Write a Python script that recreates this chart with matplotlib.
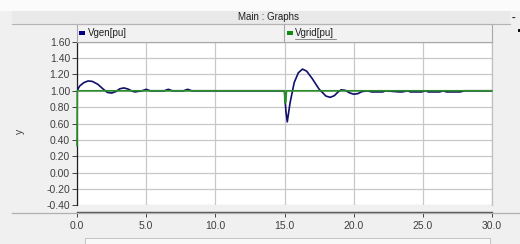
import matplotlib
matplotlib.use('Agg')
import matplotlib.pyplot as plt
from matplotlib.patches import Rectangle
from matplotlib.lines import Line2D

plt.rcParams['font.family'] = ['Liberation Sans', 'DejaVu Sans']

# Datos (tiempo en s, tension en pu)
t_gen = [0.0, 0.2, 0.5, 0.8, 1.1, 1.5, 1.9, 2.2, 2.5, 2.8, 3.1, 3.4, 3.7, 4.0,
         4.2, 4.5, 4.7, 5.0, 5.3, 5.6, 6.3, 6.6, 6.9, 7.7, 8.0, 8.3,
         15.0, 15.1, 15.2, 15.4, 15.7, 16.0, 16.3, 16.6, 17.0, 17.5, 18.0,
         18.3, 18.6, 18.9, 19.1, 19.4, 19.7, 20.0, 20.3, 20.6, 21.0, 21.3,
         22.1, 22.3, 23.3, 23.5, 23.9, 24.1, 24.9, 25.2, 25.4, 26.2, 26.5,
         26.7, 27.7, 28.0, 30.0]
v_gen = [1.0, 1.06, 1.10, 1.12, 1.115, 1.08, 1.02, 0.98, 0.972, 0.99, 1.025,
         1.035, 1.02, 0.995, 0.986, 0.995, 1.0, 1.018, 1.0, 1.0, 1.0, 1.018,
         1.0, 1.0, 1.018, 1.0,
         1.0, 0.75, 0.62, 0.85, 1.10, 1.22, 1.265, 1.24, 1.15, 1.02, 0.935,
         0.92, 0.94, 0.99, 1.012, 1.005, 0.975, 0.958, 0.965, 0.99, 1.0, 0.986,
         0.986, 1.0, 0.986, 0.986, 1.0, 0.986, 0.986, 1.0, 0.986, 0.986, 1.0,
         0.986, 0.986, 1.0, 1.0]

t_grid = [0.0, 0.02, 15.0, 15.03, 15.1, 15.14, 30.0]
v_grid = [0.33, 1.0, 1.0, 0.85, 0.86, 1.0, 1.0]

x_ticks = [0, 5, 10, 15, 20, 25, 30]
y_ticks = [-0.4, -0.2, 0.0, 0.2, 0.4, 0.6, 0.8, 1.0, 1.2, 1.4, 1.6]

W, H = 520, 244


def fx(x):
    return x / W


def fy(y):
    return 1 - y / H


fig = plt.figure(figsize=(5.2, 2.44), dpi=100, facecolor='#f0f0f0')

# franja blanca superior y barra de titulo
fig.patches.append(Rectangle((0, fy(11)), 1, 11 / H, transform=fig.transFigure,
                             facecolor='#fbfbfb', edgecolor='none'))
fig.patches.append(Rectangle((fx(12), fy(24)), fx(498), 13 / H, transform=fig.transFigure,
                             facecolor='#e9e9e9', edgecolor='none'))
fig.lines.append(Line2D([fx(12), fx(510)], [fy(24), fy(24)], transform=fig.transFigure,
                        color='#b4b4b4', lw=0.8))
fig.text(fx(268), fy(17.5), 'Main : Graphs', ha='center', va='center', fontsize=7, color='#202020')
fig.text(fx(514), fy(18), '-', ha='center', va='center', fontsize=8, color='#202020', fontweight='bold')
fig.patches.append(Rectangle((fx(517.5), fy(32)), 3 / W, 3 / H, transform=fig.transFigure,
                             facecolor='#101010', edgecolor='none'))

# caja de leyenda
fig.patches.append(Rectangle((fx(77), fy(41.7)), fx(415), 17.7 / H, transform=fig.transFigure,
                             facecolor='#f2f2f2', edgecolor='#a8a8a8', lw=0.8))
fig.lines.append(Line2D([fx(284), fx(284)], [fy(41.7), fy(24)], transform=fig.transFigure,
                        color='#a8a8a8', lw=0.8))
fig.patches.append(Rectangle((fx(79), fy(35)), 6 / W, 3.5 / H, transform=fig.transFigure,
                             facecolor='#000080', edgecolor='none'))
fig.text(fx(88), fy(33), 'Vgen[pu]', ha='left', va='center', fontsize=7, color='#202020')
fig.patches.append(Rectangle((fx(287), fy(35)), 6 / W, 3.5 / H, transform=fig.transFigure,
                             facecolor='#108a10', edgecolor='none'))
fig.text(fx(295), fy(33), 'Vgrid[pu]', ha='left', va='center', fontsize=7, color='#202020')
fig.lines.append(Line2D([fx(295), fx(336)], [fy(39), fy(39)], transform=fig.transFigure,
                        color='#606060', lw=0.5))

# separador del eje x
fig.lines.append(Line2D([fx(12), fx(520)], [fy(212.5), fy(212.5)], transform=fig.transFigure,
                        color='#b0b0b0', lw=0.9))

# barra de desplazamiento inferior
fig.patches.append(Rectangle((fx(85), fy(244)), fx(405), 6 / H, transform=fig.transFigure,
                             facecolor='#f8f8f8', edgecolor='#c4c4c4', lw=0.7))

ax = fig.add_axes([fx(77), fy(205.3), fx(415), (205.3 - 41.7) / H])
ax.set_facecolor('white')

ax.plot(t_gen, v_gen, color='#10106a', lw=1.2, zorder=3)
ax.plot(t_grid, v_grid, color='#2a8f2a', lw=1.2, zorder=4, clip_on=False)

ax.set_xlim(0, 30)
ax.set_ylim(-0.4, 1.6)
ax.set_xticks(x_ticks)
ax.set_xticklabels(['%.1f' % v for v in x_ticks])
ax.set_yticks(y_ticks)
ax.set_yticklabels(['%.2f' % v for v in y_ticks])
ax.grid(True, color='#c8c8c8', lw=0.9)
ax.set_axisbelow(True)

for s in ['top', 'right']:
    ax.spines[s].set_color('#c0c0c0')
    ax.spines[s].set_linewidth(0.9)
ax.spines['left'].set_color('#202020')
ax.spines['left'].set_linewidth(0.9)
ax.spines['bottom'].set_position(('outward', 5))
ax.spines['bottom'].set_color('#505050')
ax.spines['bottom'].set_linewidth(1.0)

ax.tick_params(axis='both', labelsize=7.5, colors='#404040', length=3.5, width=0.7, direction='out')
ax.tick_params(axis='x', pad=3)
ax.tick_params(axis='y', pad=1.5)

fig.text(fx(20), fy(131), 'y', rotation=90, ha='center', va='center', fontsize=7.5, color='#404040')

plt.savefig('out.png', dpi=100, facecolor=fig.get_facecolor())
